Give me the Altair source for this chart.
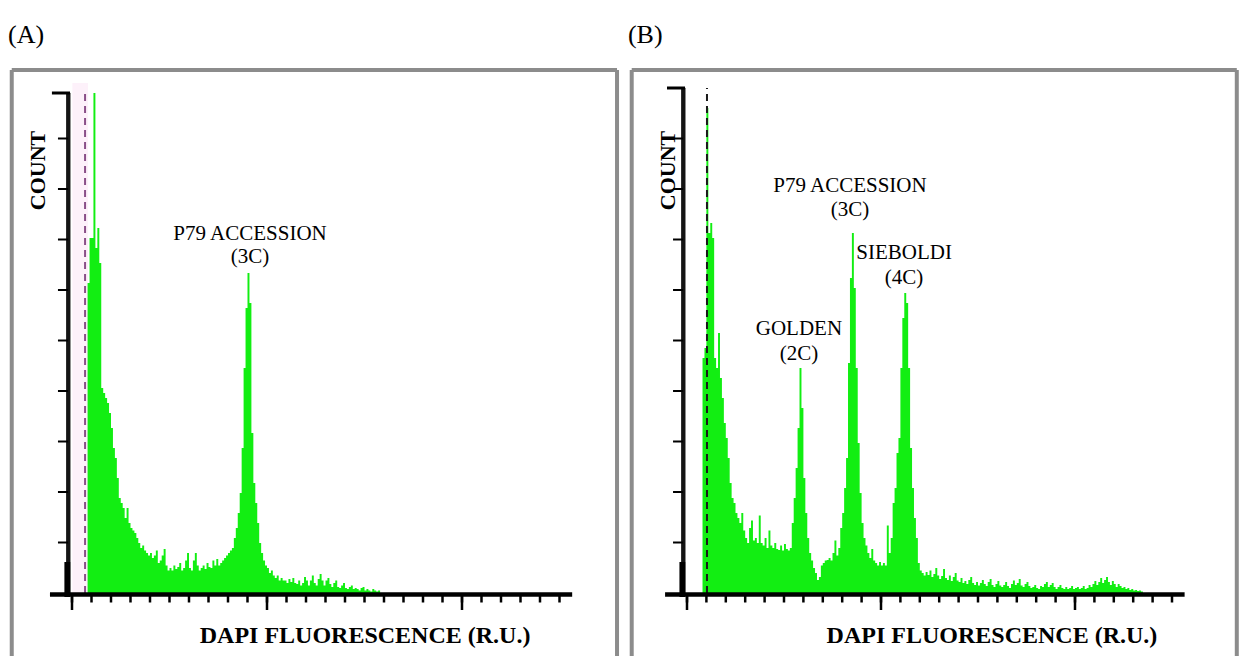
import altair as alt
import pandas as pd

# ---------------- data ----------------
# histogram counts per channel (first channel = 8), count units: 0..100 = axis height
countA = (
    [62, 71, 71, 100, 69, 73, 66]                       # ch 8-14
    + [41, 40, 39, 38, 36, 33, 29, 27, 23, 19]           # ch 15-24
    + [18, 17, 15, 17, 14, 13, 12.5, 12, 11, 10]         # ch 25-34
    + [9, 9.5, 8.5, 8, 7.5, 8, 7, 7.5, 8.5, 6]           # ch 35-44
    + [6.5, 7.5, 8.8, 5.5, 4.5, 5, 4.5, 5.5, 4.8, 5.2]   # ch 45-54
    + [6, 4.5, 5, 6.5, 8, 5, 4.5, 6.5, 8, 5.5]           # ch 55-64
    + [4.5, 5, 5.5, 4.8, 6, 5.2, 5, 6.5, 5.5, 6.8]       # ch 65-74
    + [5.5, 6, 6.5, 7, 7.5, 8, 8.5, 9, 11, 13]           # ch 75-84
    + [16, 20, 29, 45, 57, 64, 58, 32, 22, 18]           # ch 85-94
    + [14, 10, 8, 6.5, 5.5, 5, 4, 4.5, 3.5, 3]           # ch 95-104
    + [3.5, 2.5, 3, 2.5, 2.5, 2, 2.8, 2.2, 3, 2]         # ch 105-114
    + [1.8, 2.5, 1.5, 2, 3.2, 2.5, 1.5, 2.5, 3.5, 2]     # ch 115-124
    + [1.5, 2.8, 3.8, 2.5, 1.5, 2.5, 3, 1.8, 1.2, 2]     # ch 125-134
    + [2.5, 1.2, 1, 1.5, 2, 1, 0.8, 1.2, 1.5, 0.8]       # ch 135-144
    + [1, 0.8, 0.5, 1, 1.2, 0.5, 0.8, 0.5, 0.3, 0.8, 0.5, 0.3, 0.5, 0.3]  # ch 145-158
)
countB = (
    [47, 49, 97, 72, 74, 71, 47]                         # ch 8-14
    + [45, 52, 43, 39, 34, 31, 27, 22, 19, 18]           # ch 15-24
    + [16, 15, 14, 16, 12.5, 11, 10, 13, 14.5, 10.5]     # ch 25-34
    + [11, 10, 15.5, 10, 9.5, 11, 9, 12.5, 9.5, 9]       # ch 35-44
    + [10, 8.8, 8.6, 9.5, 8.5, 9.8, 8.8, 8.5, 9, 14]     # ch 45-54
    + [19, 25, 33, 45, 37, 23, 16, 11, 8, 6.5]           # ch 55-64
    + [5, 4, 2.6, 3.2, 5.5, 6, 6.5, 6.6, 7, 6.5]         # ch 65-74
    + [8, 10.5, 7.5, 9, 13, 16, 21, 27, 46, 63]          # ch 75-84
    + [72, 61, 45, 30, 20, 14, 11, 9.5, 8, 7]            # ch 85-94
    + [8.8, 6.5, 6, 5.5, 6.2, 5.5, 6, 5.5, 13.5, 8]      # ch 95-104
    + [11, 18, 21, 28, 31, 45, 55, 60, 58, 45]           # ch 105-114
    + [29, 21, 15, 11, 6, 4.5, 4, 3.5, 4.2, 3.6]         # ch 115-124
    + [4.5, 3.2, 3.8, 5, 3.5, 2.8, 3.4, 4.8, 3, 2.6]     # ch 125-134
    + [3.5, 2.4, 3.2, 4, 2.5, 2.2, 3, 2, 2.4, 1.8]       # ch 135-144
    + [2.6, 3.2, 2, 1.6, 2.2, 1.5, 2, 2.6, 1.8, 1.4]     # ch 145-154
    + [2.2, 2.8, 1.6, 1.2, 1.8, 2.4, 1.5, 1.2, 1.6, 2.2] # ch 155-164
    + [1.4, 1, 1.8, 2.5, 1.6, 2, 2.8, 1.5, 1.2, 1.8]     # ch 165-174
    + [2.2, 1.4, 1, 1.2, 1.6, 1, 0.8, 1.4, 1.2, 1.8]     # ch 175-184
    + [2.2, 1.2, 1.6, 2, 1.2, 0.8, 1.2, 1.6, 1, 0.8]     # ch 185-194
    + [1.2, 0.8, 1, 1.4, 0.8, 1, 1.2, 0.8, 1, 1.4]       # ch 195-204
    + [0.8, 1, 1.6, 1.2, 1.8, 2.4, 1.6, 2.2, 3, 2]       # ch 205-214
    + [2.6, 3.2, 2.2, 1.6, 2.4, 1.8, 1.2, 1.8, 1.4, 1]   # ch 215-224
    + [1.2, 0.8, 1, 0.6, 0.8, 0.5, 0.6, 0.4, 0.5, 0.3, 0.4]  # ch 225-235
)
FIRST_CH = 8

x_ticks = list(range(0, 251, 10))
x_major = [0, 100, 200]
y_ticks = [10.1, 20.2, 30.3, 40.4, 50.5, 60.6, 70.7, 80.8, 90.9]

annotA = [("P79 ACCESSION", 91.3, 70.6), ("(3C)", 91.3, 66.0)]
annotB = [("P79 ACCESSION", 84.0, 80.2), ("(3C)", 84.0, 75.4),
          ("SIEBOLDI", 111.9, 66.8), ("(4C)", 111.9, 61.8),
          ("GOLDEN", 57.7, 51.6), ("(2C)", 57.7, 46.6)]

SERIF = "Liberation Serif"
GREEN = "#12ee12"
AXIS = "#141414"
YDOM = [-12.6, 118.6]
H = 656


def panel(counts, xdom, width, label, dash_x, dash_color, ytop, annots,
          frame_l, frame_r, count_x, dapi_x, band=None):
    def X(f):
        return alt.X(f, type="quantitative", axis=None,
                     scale=alt.Scale(domain=xdom, nice=False, zero=False))

    def Y(f):
        return alt.Y(f, type="quantitative", axis=None,
                     scale=alt.Scale(domain=YDOM, nice=False, zero=False))

    def vrules(rows, **kw):
        df = pd.DataFrame(rows, columns=["x", "y", "y2"])
        return alt.Chart(df).mark_rule(**kw).encode(
            x=X("x"), y=Y("y"), y2=alt.Y2("y2"))

    def hrules(rows, **kw):
        df = pd.DataFrame(rows, columns=["x", "x2", "y"])
        return alt.Chart(df).mark_rule(**kw).encode(
            x=X("x"), x2=alt.X2("x2"), y=Y("y"))

    def rects(rows, **kw):
        df = pd.DataFrame(rows, columns=["x", "x2", "y", "y2"])
        return alt.Chart(df).mark_rect(**kw).encode(
            x=X("x"), x2=alt.X2("x2"), y=Y("y"), y2=alt.Y2("y2"))

    def texts(rows, **kw):
        df = pd.DataFrame(rows, columns=["t", "x", "y"])
        return alt.Chart(df).mark_text(**kw).encode(
            x=X("x"), y=Y("y"), text="t:N")

    layers = []
    if band is not None:
        layers.append(rects([(band[0], band[1], 0, ytop + 2)], color="#fdf1fa"))

    hist = pd.DataFrame({"ch": list(range(FIRST_CH, FIRST_CH + len(counts))),
                         "count": counts})
    hist["base"] = 0
    layers.append(alt.Chart(hist).mark_area(interpolate="step-after", color=GREEN,
                                            opacity=1).encode(
        x=X("ch"), y=Y("count"), y2=alt.Y2("base")))

    # dashed gate line
    layers.append(vrules([(dash_x, 0, ytop)], color=dash_color,
                         strokeWidth=2, strokeDash=[7, 5]))
    # y-axis line (very dark grey), drawn both as a rule and as a thin rectangle
    layers.append(vrules([(-1.9, -0.6, ytop)], color=AXIS, strokeWidth=4))
    layers.append(rects([(-2.9, -0.9, -0.6, ytop)], color=AXIS, opacity=1))
    # x axis
    layers.append(rects([(-11.3, 256.5, -0.75, 0.15)], color="black"))
    layers.append(vrules([(t, -0.3, -1.9) for t in x_ticks], color="black",
                         strokeWidth=2.5))
    layers.append(vrules([(t, -0.3, -3.4) for t in x_major], color="black",
                         strokeWidth=2.5))
    # frame (gray box, open at the bottom)
    ftop = 104.6
    layers.append(vrules([(frame_l, ftop, YDOM[0]), (frame_r, ftop, YDOM[0])],
                         color="#8c8c8c", strokeWidth=4))
    layers.append(hrules([(frame_l, frame_r, ftop)], color="#8c8c8c", strokeWidth=4))
    # texts
    layers.append(texts(annots, font=SERIF, fontSize=21, color="black",
                        align="center", baseline="alphabetic"))
    layers.append(texts([("COUNT", count_x, 84.5)],
                        font=SERIF, fontSize=22, fontWeight="bold", color="black",
                        angle=270, align="center", baseline="middle"))
    layers.append(texts([("DAPI FLUORESCENCE (R.U.)", dapi_x, -9.9)],
                        font=SERIF, fontSize=24, fontWeight="bold", color="black",
                        align="center", baseline="alphabetic"))
    layers.append(texts([(label, xdom[0] + 4.1, 110.0)], font=SERIF, fontSize=26,
                        color="black", align="left", baseline="alphabetic"))
    # thick bottom part, ticks, top tick
    layers.append(rects([(-3.9, -0.9, -0.8, 6.2)], color="black"))
    layers.append(hrules([(-7.2, -2.0, v) for v in y_ticks], color="black",
                         strokeWidth=2))
    layers.append(hrules([(-10.3, -1.0, ytop)], color="black", strokeWidth=3))

    return alt.layer(*layers).properties(width=width, height=H)


chartA = panel(countA, [-36.923, 281.026], 620, "(A)", 6.7, "#8a4f88", 100,
               annotA, -30.9, 279.5, -17.2, 150.3, band=(0.2, 8.2))
chartB = panel(countB, [-34.536, 284.536], 619, "(B)", 10.3, "#1a1a1a", 101,
               annotB, -28.5, 283.4, -9.8, 157.2)

chart = alt.hconcat(chartA, chartB, spacing=0).properties(
    padding=0, background="white"
).configure_view(stroke=None)

chart.save("out.html", embed_options={"renderer": "svg", "actions": False})
